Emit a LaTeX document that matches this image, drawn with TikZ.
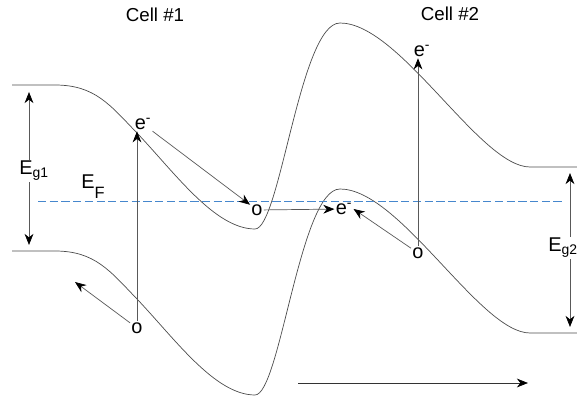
\documentclass[tikz,border=0pt]{standalone}
\usepackage{fontspec}
\setmainfont{Liberation Sans}
\usetikzlibrary{arrows.meta}
\definecolor{fermiblue}{RGB}{70,135,205}

\begin{document}
\begin{tikzpicture}[x=0.03cm, y=-0.03cm,
		>={Stealth[length=9.5pt,width=7.5pt,inset=3pt,color=black]},
		font=\fontsize{17}{20}\selectfont,
		band/.style={black!70, line width=0.6pt},
		carrier/.style={inner sep=1pt},
		move/.style={->, black!65, line width=0.6pt},
		gap/.style={<->, black!65, line width=0.6pt}]
		\useasboundingbox (0,0) rectangle (577,401);

		% 1. Band edges (valence band = conduction band shifted down)
		\foreach \dy in {0,166} {
			\draw[band, shift={(0,\dy)}] (12,85) -- (55,85)
				.. controls (95,85) and (110,105) .. (137,133)
				.. controls (175,173) and (215,229) .. (255,229)
				.. controls (280,229) and (300,23) .. (340,23)
				.. controls (400,23) and (480,167) .. (530,167) -- (577,167);
		}

		% 2. Fermi level
		\draw[fermiblue, dash pattern=on 7pt off 3pt, line width=0.6pt] (38,201) -- (562,201);

		% 3. Titles
		\node[font=\fontsize{16}{19}\selectfont] (cell1) at (155,15) {Cell \#1};
		\node[font=\fontsize{16}{19}\selectfont] (cell2) at (450,14) {Cell \#2};
		\node[inner sep=0pt] (ef) at (93,187) {E\raisebox{-8.5pt}{\fontsize{14}{16}\selectfont F}};

		% 4. Band gaps
		\coordinate (cb1) at (29,92);
		\coordinate (vb1) at (29,245);
		\draw[gap] (cb1) -- (vb1);
		\node[fill=white, inner sep=1pt] (eg1) at (34,171) {E\textsubscript{g1}};
		\coordinate (cb2) at (570,173);
		\coordinate (vb2) at (570,327);
		\draw[gap] (cb2) -- (vb2);
		\node[fill=white, inner sep=1pt] (eg2) at (563,248) {E\textsubscript{g2}};

		% 5. Carriers
		\node[carrier] (e1) at (143,124) {e\textsuperscript{-}};
		\node[carrier] (h1) at (137,328) {o};
		\node[carrier] (h2) at (257,210) {o};
		\node[carrier] (ej) at (344,209) {e\textsuperscript{-}};
		\node[carrier] (hb) at (418,253) {o};
		\node[carrier] (e3) at (422,51) {e\textsuperscript{-}};
		\coordinate (hdrift) at (75,282);

		% 6. Transitions and drift
		\draw[move] (h1) -- (h1 |- e1.south);
		\draw[move] (h1) -- (hdrift);
		\draw[move] (e1) -- (h2);
		\draw[move] (h2) -- (ej);
		\draw[move] (hb) -- (ej.east);
		\draw[move] (hb) -- (hb |- e3.south);

		% 7. Direction arrow
		\coordinate (dirL) at (298,383);
		\coordinate (dirR) at (528,383);
		\draw[move, black!80] (dirL) -- (dirR);
	\end{tikzpicture}
\end{document}
